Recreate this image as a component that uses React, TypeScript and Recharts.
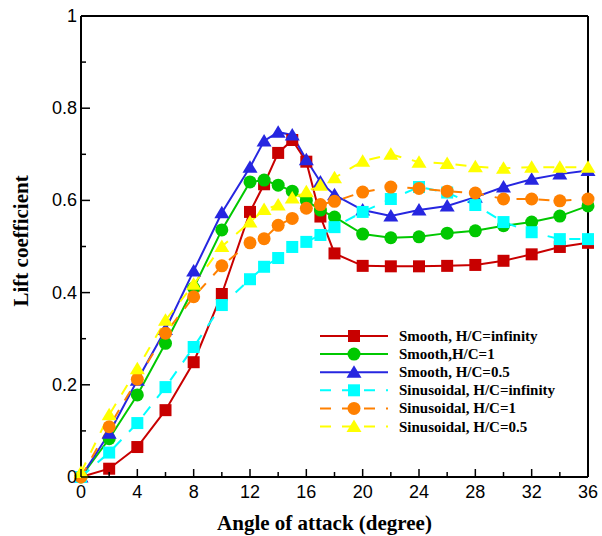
import { LineChart, Line, XAxis, YAxis, ReferenceLine, Legend } from 'recharts';

const angles = [0, 2, 4, 6, 8, 10, 12, 13, 14, 15, 16, 17, 18, 20, 22, 24, 26, 28, 30, 32, 34, 36];

const smoothInf = [0, 0.018, 0.065, 0.145, 0.249, 0.397, 0.575, 0.635, 0.703, 0.731, 0.684, 0.565, 0.485, 0.458, 0.457, 0.457, 0.458, 0.46, 0.469, 0.483, 0.499, 0.508];
const smooth1 = [0, 0.083, 0.178, 0.29, 0.41, 0.536, 0.64, 0.644, 0.633, 0.62, 0.6, 0.579, 0.564, 0.527, 0.519, 0.521, 0.529, 0.534, 0.545, 0.553, 0.566, 0.588];
const smooth05 = [0, 0.095, 0.21, 0.32, 0.447, 0.573, 0.672, 0.729, 0.748, 0.742, 0.688, 0.64, 0.612, 0.579, 0.566, 0.579, 0.588, 0.607, 0.629, 0.646, 0.657, 0.665];
const sinInf = [0, 0.053, 0.117, 0.195, 0.282, 0.373, 0.429, 0.456, 0.475, 0.499, 0.51, 0.525, 0.542, 0.575, 0.603, 0.629, 0.617, 0.59, 0.553, 0.531, 0.516, 0.516];
const sin1 = [0, 0.109, 0.212, 0.312, 0.391, 0.458, 0.508, 0.517, 0.546, 0.561, 0.583, 0.591, 0.598, 0.618, 0.629, 0.626, 0.62, 0.616, 0.603, 0.603, 0.599, 0.603];
const sin05 = [0.01, 0.135, 0.235, 0.34, 0.418, 0.5, 0.553, 0.58, 0.59, 0.605, 0.619, 0.633, 0.649, 0.685, 0.7, 0.683, 0.68, 0.673, 0.67, 0.672, 0.672, 0.672];

const xTicks = [0, 2, 4, 6, 8, 10, 12, 14, 16, 18, 20, 22, 24, 26, 28, 30, 32, 34, 36];
const yTicks = [0, 0.1, 0.2, 0.3, 0.4, 0.5, 0.6, 0.7, 0.8, 0.9, 1];

const series = [
  { key: 'smoothInf', name: 'Smooth, H/C=infinity', color: '#c80000', shape: 'square', dashed: false },
  { key: 'smooth1', name: 'Smooth,H/C=1', color: '#00c800', shape: 'circle', dashed: false },
  { key: 'smooth05', name: 'Smooth, H/C=0.5', color: '#2626e0', shape: 'triangle', dashed: false },
  { key: 'sinInf', name: 'Sinusoidal, H/C=infinity', color: '#00ffff', shape: 'square', dashed: true },
  { key: 'sin1', name: 'Sinusoidal, H/C=1', color: '#ff8000', shape: 'circle', dashed: true },
  { key: 'sin05', name: 'Sinusoidal, H/C=0.5', color: '#ffff00', shape: 'triangle', dashed: true },
];

const data = angles.map((a, i) => ({
  angle: a,
  smoothInf: smoothInf[i],
  smooth1: smooth1[i],
  smooth05: smooth05[i],
  sinInf: sinInf[i],
  sin1: sin1[i],
  sin05: sin05[i],
}));

const DASH = '11 11';
const tickFont = '"Liberation Sans", Arial, sans-serif';
const titleFont = '"Liberation Serif", "Times New Roman", serif';

function Marker({ shape, color, cx, cy }: { shape: string; color: string; cx: number; cy: number }) {
  if (shape === 'square') return <rect x={cx - 6} y={cy - 6} width={12} height={12} fill={color} />;
  if (shape === 'circle') return <circle cx={cx} cy={cy} r={6.5} fill={color} />;
  return <polygon points={`${cx},${cy - 7} ${cx - 7.5},${cy + 5.5} ${cx + 7.5},${cy + 5.5}`} fill={color} />;
}

const dotFor = (shape: string, color: string) => (props: any) => (
  <Marker key={props.index} shape={shape} color={color} cx={props.cx} cy={props.cy} />
);

function XTick(props: any) {
  const { x, y, payload } = props;
  const v = payload.value;
  const major = v % 4 === 0;
  return (
    <g>
      <line x1={x} x2={x} y1={y} y2={y - (major ? 8 : 5)} stroke="#000" strokeWidth={1.5} />
      {major && (
        <text x={x} y={y + 21} textAnchor="middle" fontSize={18} fontFamily={tickFont} fill="#000">
          {v}
        </text>
      )}
    </g>
  );
}

function YTick(props: any) {
  const { x, y, payload } = props;
  const v = payload.value;
  const major = Math.round(v * 10) % 2 === 0;
  return (
    <g>
      <line x1={x} x2={x + (major ? 9 : 5)} y1={y} y2={y} stroke="#000" strokeWidth={1.5} />
      {major && (
        <text x={x - 4} y={y + 6} textAnchor="end" fontSize={18} fontFamily={tickFont} fill="#000">
          {Number(v.toFixed(1))}
        </text>
      )}
    </g>
  );
}

function LegendBox() {
  return (
    <svg width={260} height={110} style={{ display: 'block' }}>
      {series.map((s, i) => {
        const y = 10 + i * 18.1;
        return (
          <g key={s.key}>
            <line x1={2} x2={70} y1={y} y2={y} stroke={s.color} strokeWidth={2} strokeDasharray={s.dashed ? DASH : undefined} />
            <Marker shape={s.shape} color={s.color} cx={36} cy={y} />
            <text x={81} y={y + 5} fontSize={15} fontWeight="bold" fontFamily={titleFont} fill="#000">
              {s.name}
            </text>
          </g>
        );
      })}
    </svg>
  );
}

export default function App() {
  return (
    <div style={{ position: 'absolute', left: 0, top: 0 }}>
      <LineChart width={602} height={536} data={data} margin={{ top: 16, right: 14, left: 0, bottom: 0 }}>
        <XAxis
          type="number"
          dataKey="angle"
          domain={[0, 36]}
          ticks={xTicks}
          interval={0}
          height={59}
          tickSize={0}
          tickMargin={0}
          tickLine={false}
          axisLine={{ stroke: '#000', strokeWidth: 2 }}
          tick={<XTick />}
          label={{
            value: 'Angle of attack (degree)',
            position: 'insideBottom',
            offset: 6,
            dx: -10,
            style: { fontSize: 21, fontWeight: 'bold', fontFamily: titleFont, fill: '#000' },
          }}
        />
        <YAxis
          type="number"
          domain={[0, 1]}
          ticks={yTicks}
          interval={0}
          width={81}
          tickSize={0}
          tickMargin={0}
          tickLine={false}
          axisLine={{ stroke: '#000', strokeWidth: 2 }}
          tick={<YTick />}
          label={{
            value: 'Lift coefficient',
            angle: -90,
            position: 'insideLeft',
            offset: 21,
            dy: 60,
            style: { fontSize: 21, fontWeight: 'bold', fontFamily: titleFont, fill: '#000' },
          }}
        />
        <ReferenceLine y={1} stroke="#000" strokeWidth={2} />
        <ReferenceLine x={36} stroke="#000" strokeWidth={2} />
        {series.map((s) => (
          <Line
            key={s.key}
            type="linear"
            dataKey={s.key}
            name={s.name}
            stroke={s.color}
            strokeWidth={2}
            strokeDasharray={s.dashed ? DASH : undefined}
            dot={dotFor(s.shape, s.color)}
            activeDot={false}
            isAnimationActive={false}
          />
        ))}
        <Legend
          layout="horizontal"
          verticalAlign="middle"
          align="center"
          content={<LegendBox />}
          wrapperStyle={{ position: 'absolute', left: 318, top: 326, width: 260 }}
        />
      </LineChart>
    </div>
  );
}
